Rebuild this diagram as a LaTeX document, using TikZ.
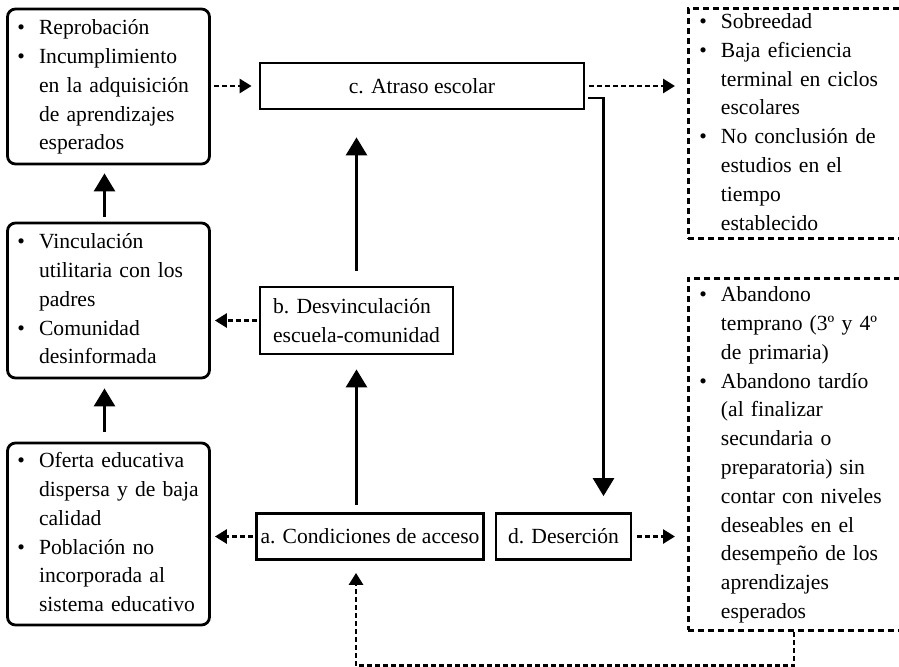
\documentclass[tikz,border=0pt]{standalone}
\usepackage{fontspec}
\setmainfont{Liberation Serif}
\usetikzlibrary{arrows.meta, positioning, calc}

\newcommand{\blist}[1]{\begin{tabular}{@{}l@{\hspace{7pt}}l@{}}#1\end{tabular}}

\begin{document}
\begin{tikzpicture}[x=0.5pt, y=-0.5pt, line width=1.4pt,
  font=\fontsize{10.8}{14.4}\selectfont,
  cause/.style={draw, rounded corners=4pt, text width=91pt, inner xsep=5pt, inner ysep=0pt, align=left},
  stage/.style={draw, minimum height=23pt, inner xsep=6pt, inner ysep=0pt},
  effect/.style={draw, dash pattern=on 3pt off 2pt, anchor=north west, text width=104pt, minimum width=115pt, inner xsep=5.5pt, inner ysep=0pt, align=left},
  link/.style={-{Triangle[length=9pt, width=10.5pt]}},
  dlink/.style={-{Triangle[length=6pt, width=7pt]}, dash pattern=on 2.5pt off 1.5pt},
]
  \useasboundingbox (0,0) rectangle (899,666);
  \clip (0,0) rectangle (899,666);

  % left column
  \node[cause, minimum height=77.5pt] (rep) at (108.5,86.5)
    {\blist{\textbullet & Reprobación\\ \textbullet & Incumplimiento\\ & en la adquisición\\ & de aprendizajes\\ & esperados}};
  \node[cause, minimum height=77.5pt] (vinc) at (108.5,300.5)
    {\blist{\textbullet & Vinculación\\ & utilitaria con los\\ & padres\\ \textbullet & Comunidad\\ & desinformada}};
  \node[cause, minimum height=91pt] (ofer) at (108.5,534)
    {\blist{\textbullet & Oferta educativa\\ & dispersa y de baja\\ & calidad\\ \textbullet & Población no\\ & incorporada al\\ & sistema educativo}};

  % middle
  \node[stage, minimum width=162pt] (atr) at (422,86) {c. Atraso escolar};
  \node[stage, minimum width=96.5pt, minimum height=33.5pt, align=left] (desv) at (356.5,320.5)
    {b. Desvinculación\\escuela-comunidad};
  \node[stage, minimum width=110pt, inner xsep=2pt] (acc) at (370,536.5) {a. Condiciones de acceso};
  \node[stage, minimum width=67.5pt] (des) at (563.5,536.5) {d. Deserción};

  % right column
  \node[effect, minimum height=115pt] (sob) at (687,7)
    {\blist{\textbullet & Sobreedad\\ \textbullet & Baja eficiencia\\ & terminal en ciclos\\ & escolares\\ \textbullet & No conclusión de\\ & estudios en el\\ & tiempo\\ & establecido}};
  \node[effect, minimum height=176pt] (aban) at (687,277)
    {\blist{\textbullet & Abandono\\ & temprano (3º y 4º\\ & de primaria)\\ \textbullet & Abandono tardío\\ & (al finalizar\\ & secundaria o\\ & preparatoria) sin\\ & contar con niveles\\ & deseables en el\\ & desempeño de los\\ & aprendizajes\\ & esperados}};

  \draw[link, shorten <=5pt, shorten >=4.5pt] ([xshift=-2pt]ofer.north) -- ([xshift=-2pt]vinc.south);
  \draw[link, shorten <=2.5pt, shorten >=4pt] ([xshift=-2pt]vinc.north) -- ([xshift=-2pt]rep.south);
  \draw[link, shorten <=3.5pt, shorten >=7pt] (acc.north -| desv.center) -- (desv.south);
  \draw[link, shorten <=7.5pt, shorten >=13.5pt] (desv.north) -- (desv.north |- atr.south);
  \draw[link, shorten <=1.5pt, shorten >=8pt] ([yshift=-6pt]atr.east) -| ([xshift=20pt]des.north);

  \draw[dlink, shorten <=1.5pt, shorten >=3.5pt] (atr.west -| rep.east) -- (atr.west);
  \draw[dlink, shorten <=2pt, shorten >=6pt] (atr.east) -- (atr.east -| sob.west);
  \draw[dlink, shorten <=1pt, shorten >=2pt] (desv.west) -- (desv.west -| vinc.east);
  \draw[dlink, shorten <=1pt, shorten >=2pt] (acc.west) -- (acc.west -| ofer.east);
  \draw[dlink, shorten <=2.5pt, shorten >=6pt] (des.east) -- (des.east -| aban.west);
  \draw[dlink, shorten >=6pt] ([xshift=53.5pt]aban.south west) -- ++(0pt,-17pt) -| ([xshift=-7pt]acc.south);
\end{tikzpicture}
\end{document}
